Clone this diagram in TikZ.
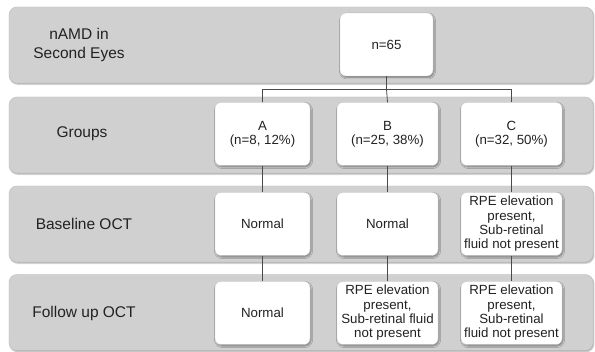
\documentclass[tikz,border=0pt]{standalone}
\usepackage{fontspec}
\setmainfont{Liberation Sans}
\usetikzlibrary{positioning,calc,shadows.blur}
\definecolor{Ink}{HTML}{222222}
\definecolor{Band}{HTML}{D0D0D0}
\definecolor{BandEdge}{HTML}{BDBDBD}
\definecolor{Wire}{HTML}{4A4A4A}
\tikzset{
  band/.style={draw=BandEdge,fill=Band,rounded corners=8pt,minimum width=584pt,minimum height=76pt,inner sep=0pt,
    blur shadow={shadow xshift=0.8pt,shadow yshift=-1.2pt,shadow blur radius=1.2pt,shadow opacity=35}},
  rowlabel/.style={align=center,text=Ink,font=\fontsize{15.5}{18.5}\selectfont},
  box/.style={draw=gray!35,fill=white,rounded corners=6pt,minimum width=101pt,minimum height=63pt,inner sep=1pt,align=center,text=Ink,
    font=\fontsize{13.3}{14.3}\selectfont,
    blur shadow={shadow xshift=1pt,shadow yshift=-1.5pt,shadow blur radius=1.5pt,shadow opacity=40}},
  link/.style={draw=Wire,line width=0.8pt}
}
\begin{document}
\begin{tikzpicture}[x=1pt,y=-1pt]
\useasboundingbox (0,0) rectangle (595,352);
% bands
\node[band] (band1) at (301,45) {};
\node[band] (band2) at (301,135) {};
\node[band] (band3) at (301,224) {};
\node[band] (band4) at (301,312.5) {};
% row labels
\node[rowlabel] (lab1) at (79,45) {nAMD in\\Second Eyes};
\node[rowlabel] (lab2) at (82,134) {Groups};
\node[rowlabel] (lab3) at (84,224) {Baseline OCT};
\node[rowlabel] (lab4) at (84,313) {Follow up OCT};
% boxes
\node[box,minimum width=93pt] (n65) at (386.5,44.5) {n=65};
\node[box,minimum width=95pt] (grpA) at (262.5,134) {A\\(n=8, 12\%)};
\node[box] (grpB) at (387.5,134) {B\\(n=25, 38\%)};
\node[box] (grpC) at (511.5,134) {C\\(n=32, 50\%)};
\node[box,minimum width=95pt] (baseA) at (262.5,224) {Normal};
\node[box] (baseB) at (387.5,224) {Normal};
\node[box] (baseC) at (511.5,224) {RPE elevation\\present,\\Sub-retinal\\fluid not present};
\node[box,minimum width=95pt] (fupA) at (262.5,313) {Normal};
\node[box] (fupB) at (387.5,313) {RPE elevation\\present,\\Sub-retinal fluid\\not present};
\node[box] (fupC) at (511.5,313) {RPE elevation\\present,\\Sub-retinal\\fluid not present};
% connectors
\coordinate (bus) at (0,89);
\draw[link] (n65.south) -- (n65.south |- bus);
\draw[link] (grpA.north) -- (grpA.north |- bus) -- (grpC.north |- bus) -- (grpC.north);
\draw[link] (n65.south |- bus) -- (grpB.north);
\foreach \g in {A,B,C}{
  \draw[link] (grp\g.south) -- (base\g.north);
  \draw[link] (base\g.south) -- (fup\g.north);
}
\end{tikzpicture}
\end{document}
